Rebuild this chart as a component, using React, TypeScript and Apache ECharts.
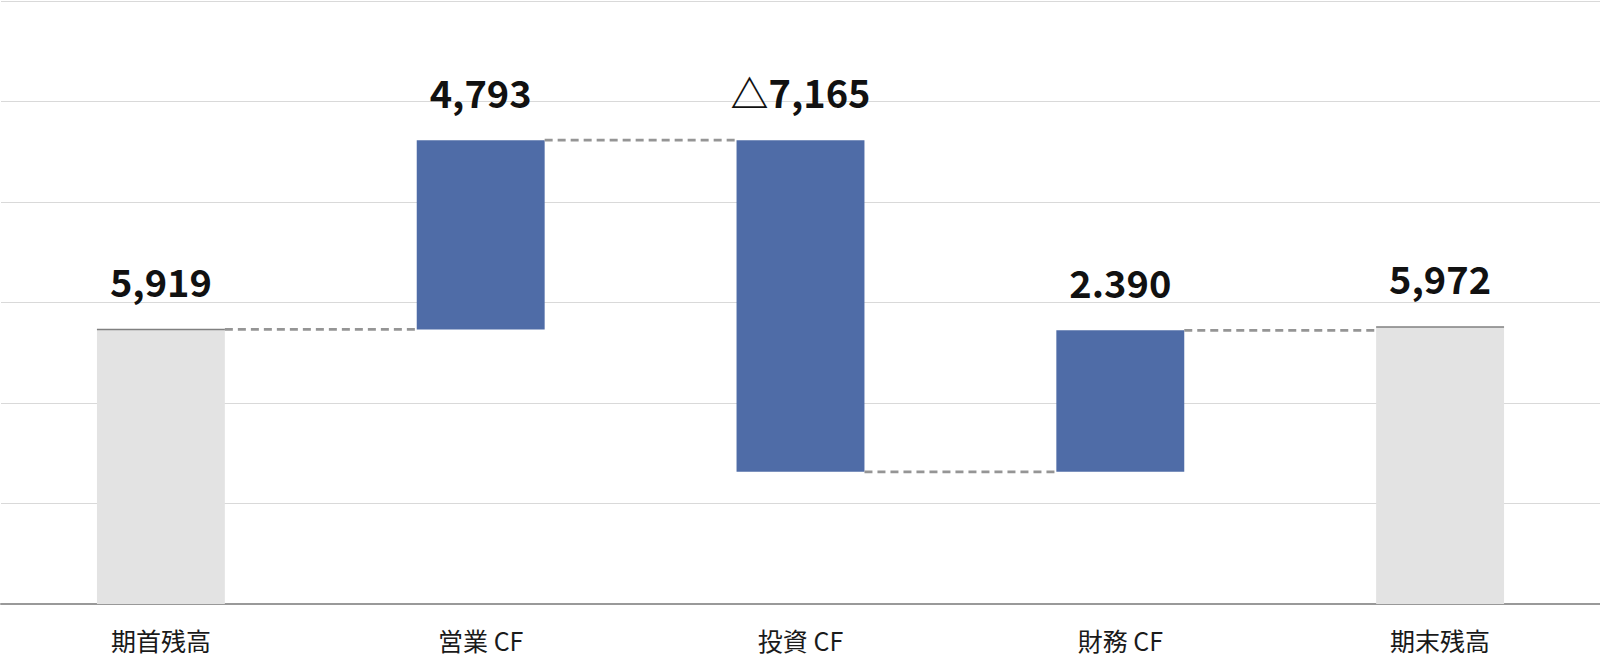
import React, { useEffect, useRef } from "react";
import * as echarts from "echarts";

const categories = ["期首残高", "営業 CF", "投資 CF", "財務 CF", "期末残高"];
const valueLabels = ["5,919", "4,793", "△7,165", "2.390", "5,972"];
// each step runs from stepFrom to stepTo
const stepFrom = [0, 5919, 10000, 2850, 0];
const stepTo = [5919, 10000, 2850, 5900, 5972];
const isTotal = [true, false, false, false, true];

const axisMax = 13000;
const axisInterval = axisMax / 6;

const FONT = '"Noto Sans CJK JP", "Noto Sans", sans-serif';
const BAR_RATIO = 0.4;

export default function App() {
  const ref = useRef<HTMLDivElement>(null);

  useEffect(() => {
    if (!ref.current) return;
    const chart = echarts.init(ref.current, undefined, { renderer: "svg" });

    const baseData = stepFrom.map((f, i) => Math.min(f, stepTo[i]));
    const barData = stepFrom.map((f, i) => ({
      value: Math.abs(stepTo[i] - f),
      itemStyle: { color: isTotal[i] ? "#e3e3e3" : "#4f6ca7" },
    }));
    const connectorData = stepTo.slice(0, stepTo.length - 1).map((v, i) => [i, v]);
    const totalTopData = stepTo
      .map((v, i) => [i, v])
      .filter((_, i) => isTotal[i]);

    chart.setOption({
      animation: false,
      textStyle: { fontFamily: FONT },
      grid: { left: 1, right: 0, top: 1, bottom: 54, containLabel: false },
      xAxis: {
        type: "category",
        data: categories,
        axisTick: { show: false },
        axisLine: { lineStyle: { color: "#999999", width: 2 } },
        axisLabel: {
          fontSize: 25,
          lineHeight: 25,
          color: "#1a1a1a",
          margin: 23,
          fontFamily: FONT,
        },
      },
      yAxis: {
        type: "value",
        min: 0,
        max: axisMax,
        interval: axisInterval,
        axisLabel: { show: false },
        axisLine: { show: false },
        axisTick: { show: false },
        splitLine: { lineStyle: { color: "#d9d9d9", width: 1 } },
      },
      series: [
        {
          type: "bar",
          stack: "wf",
          data: baseData,
          barWidth: `${BAR_RATIO * 100}%`,
          itemStyle: { color: "transparent" },
          silent: true,
        },
        {
          type: "bar",
          stack: "wf",
          data: barData,
          barWidth: `${BAR_RATIO * 100}%`,
          label: {
            show: true,
            position: "top",
            distance: 30,
            fontSize: 38,
            lineHeight: 38,
            fontWeight: "bold",
            color: "#111111",
            fontFamily: FONT,
            formatter: (p: any) => valueLabels[p.dataIndex],
          },
        },
        {
          type: "custom",
          coordinateSystem: "cartesian2d",
          data: connectorData,
          encode: { x: 0, y: 1 },
          silent: true,
          z: 5,
          renderItem: (params: any, api: any) => {
            const p = api.coord([api.value(0), api.value(1)]);
            const band = api.size([1, 0])[0];
            const half = (band * BAR_RATIO) / 2;
            return {
              type: "line",
              shape: { x1: p[0] + half, y1: p[1], x2: p[0] + band - half, y2: p[1] },
              style: { stroke: "#959595", lineWidth: 2.8, lineDash: [8, 5] },
            };
          },
        },
        {
          type: "custom",
          coordinateSystem: "cartesian2d",
          data: totalTopData,
          encode: { x: 0, y: 1 },
          silent: true,
          z: 5,
          renderItem: (params: any, api: any) => {
            const p = api.coord([api.value(0), api.value(1)]);
            const band = api.size([1, 0])[0];
            const half = (band * BAR_RATIO) / 2;
            return {
              type: "line",
              shape: { x1: p[0] - half, y1: p[1], x2: p[0] + half, y2: p[1] },
              style: { stroke: "#808080", lineWidth: 1.5 },
            };
          },
        },
      ],
    });

    return () => chart.dispose();
  }, []);

  return (
    <div
      ref={ref}
      style={{ position: "absolute", left: 0, top: 0, width: 1600, height: 658, background: "#ffffff" }}
    />
  );
}
